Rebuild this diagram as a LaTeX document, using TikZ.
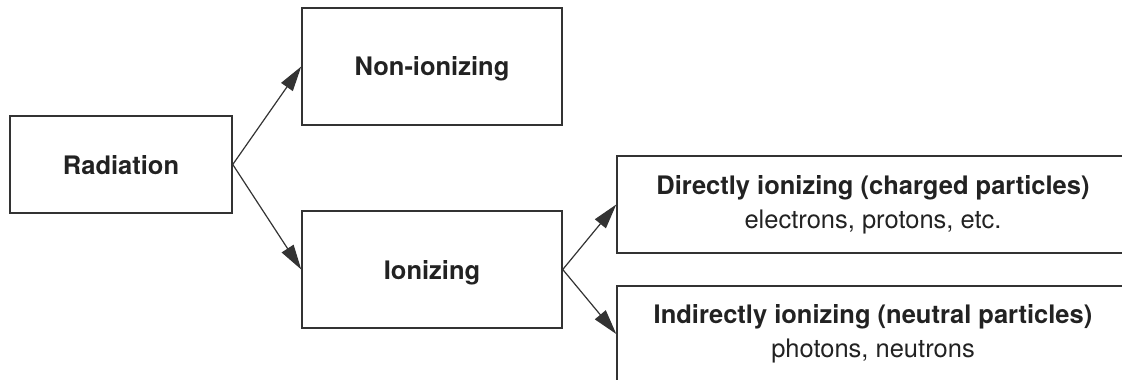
\documentclass[tikz,border=0pt]{standalone}
\usepackage{fontspec}
\setmainfont{TeX Gyre Heros}
\usetikzlibrary{arrows.meta}
\definecolor{ink}{HTML}{222222}
\definecolor{edge}{HTML}{333333}
\begin{document}
\begin{tikzpicture}[x=1pt,y=-1pt,
  box/.style={draw=edge, line width=1.5pt, rectangle, inner sep=0pt, text=ink,
    font=\fontsize{25.5}{34}\selectfont, align=center},
  single/.style={box, text depth=0pt},
  conn/.style={draw=edge, line width=1.2pt, -{Triangle[length=25pt,width=14pt]}}]
\useasboundingbox (0,0) rectangle (1122,380);
\clip (0,0) rectangle (1122,380);
\node[single, minimum width=222pt, minimum height=97pt] (rad) at (121,164.5) {\bfseries Radiation};
\node[single, minimum width=260pt, minimum height=117pt] (non) at (432,66.5) {\bfseries Non-ionizing};
\node[single, minimum width=260pt, minimum height=117pt] (ion) at (432,269.5) {\bfseries Ionizing};
\node[box, minimum width=512pt, minimum height=97pt] (dir) at (873,204.5) {\bfseries Directly ionizing (charged particles)\\electrons, protons, etc.};
\node[box, minimum width=512pt, minimum height=96pt] (ind) at (873,334) {\bfseries Indirectly ionizing (neutral particles)\\photons, neutrons};
\draw[conn] (rad.east) -- (non.west);
\draw[conn] (rad.east) -- (ion.west);
\draw[conn] (ion.east) -- (dir.west);
\draw[conn] (ion.east) -- (ind.west);
\end{tikzpicture}
\end{document}
